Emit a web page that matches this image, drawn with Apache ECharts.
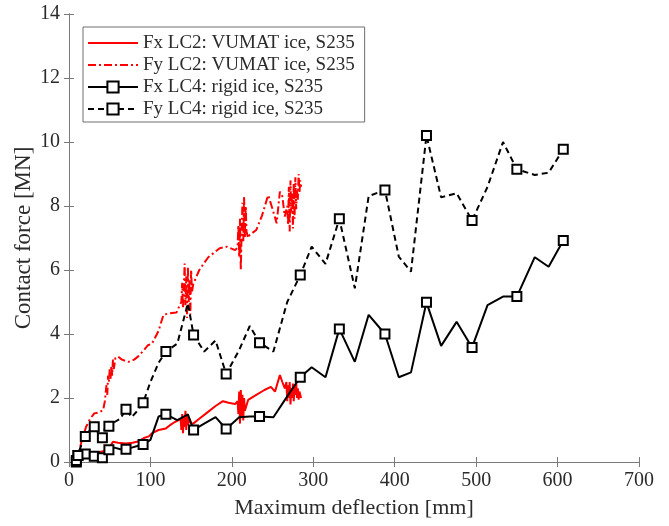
<!DOCTYPE html>
<html>
<head>
<meta charset="utf-8">
<script src="https://cdn.jsdelivr.net/npm/echarts@6/dist/echarts.min.js"></script>
<style>
  html, body { margin: 0; padding: 0; background: #fff; }
  #chart { width: 669px; height: 526px; }
</style>
</head>
<body>
<div id="chart"></div>
<script>
// LC2 (VUMAT ice) — deflection [mm] and force [MN]
const lc2FxDefl = [8,12,18,25,35,45,50,52,54,60,70,78,86,92,98,102,110,119,124,130,134,137,138,139,140,141,142,143,144,145,146,148,150,152.5,160,170,180,189,196,204,207,208,209,210,211,212,213,214,215,216,220,230,240,248,253,259,262,265,267,268,269,270,271,272,273,274,275,276,277,278,279,280,281,282,283,285];
const lc2FxForce = [0,0.1,0.2,0.25,0.3,0.35,0.4,0.55,0.63,0.6,0.58,0.6,0.65,0.75,0.8,0.9,1.0,1.05,1.15,1.25,1.3,1.35,1.0,1.5,0.9,1.4,1.1,1.6,1.0,1.45,1.15,1.35,1.2,1.2,1.35,1.55,1.75,1.9,1.85,1.81,1.9,1.5,2.2,1.2,2.25,1.4,2.1,1.3,2.0,1.6,1.94,2.1,2.25,2.35,2.2,2.72,2.5,2.3,2.5,1.9,2.4,2.0,2.5,1.8,2.3,2.0,2.45,1.9,2.35,2.1,2.5,2.0,2.3,1.95,2.2,2.0];

const lc2FyDefl = [8,12,16,21,26,31,37,42,44,46,47,48,49,50,51,52,53,54,55,57,60,65,73,80,85,92,97,102,106,110,116,124,132,136,138,139,140,141,142,143,144,145,146,147,148,149,150,151,152.5,160,171,185,194,204,207,208,209,210,211,212,213,214,215,216,217,218,220,222,230,237,244.6,250,255,259,262,265,268,269,270,271,272,273,274,275,276,277,278,279,280,281,282,283,284,285];
const lc2FyForce = [0,0.3,0.7,1.1,1.35,1.52,1.55,1.62,1.9,2.4,2.1,2.7,2.5,2.9,2.6,3.0,2.7,3.2,2.9,3.25,3.3,3.2,3.13,3.2,3.3,3.5,3.65,3.7,3.9,4.1,4.6,4.65,4.67,4.9,5.0,5.6,4.8,5.4,6.2,4.9,5.8,4.5,6.1,5.0,5.7,4.6,6.0,5.3,5.55,6.0,6.4,6.68,6.73,6.62,6.7,7.4,6.4,7.6,6.0,7.2,8.1,6.9,8.3,7.0,8.0,7.2,7.0,7.1,7.25,7.7,8.34,7.9,7.46,8.45,8.3,7.67,8.0,7.4,8.6,7.2,8.8,7.8,8.4,7.3,8.7,7.6,8.9,7.9,8.5,8.2,9.0,8.4,8.8,8.6];

// LC4 (rigid ice) — shared deflection steps, markers on every third step
const lc4Defl = [9,9.5,10, 11,14,17, 20,24,27, 31,34,37, 41,43,46, 49,56,63, 70,77,84, 91,100,110, 119,133,146, 153,166,180, 193,209,222, 234,251,268, 284,298,315, 332,351,368, 388,405,420, 439,457,476, 495,514,533, 550,572,589, 607];
const lc4FxForce = [0,0.1,0.15, 0.2,0.22,0.24, 0.25,0.22,0.2, 0.18,0.2,0.17, 0.13,0.2,0.3, 0.38,0.45,0.4, 0.4,0.45,0.5, 0.55,0.69,1.42, 1.49,1.31,1.49, 1.0,1.2,1.4, 1.03,1.4,1.42, 1.42,1.4,2.05, 2.65,2.96,2.65, 4.16,3.13,4.6, 4.0,2.65,2.8, 4.99,3.63,4.38, 3.58,4.9,5.17, 5.17,6.4,6.1, 6.92];
const lc4FyForce = [0.05,0.1,0.15, 0.2,0.45,0.65, 0.8,0.95,1.0, 1.1,1.0,0.85, 0.76,0.95,1.25, 1.12,1.25,1.35, 1.65,1.4,1.6, 1.85,2.5,3.1, 3.45,3.7,4.96, 3.97,3.45,3.8, 2.75,3.5,4.25, 3.73,3.45,5.0, 5.84,6.73,6.19, 7.6,5.43,8.31, 8.5,6.42,5.95, 10.2,8.27,8.4, 7.55,8.6,10.0, 9.15,8.97,9.04, 9.77];

const seriesNames = [
  'Fx LC2: VUMAT ice, S235',
  'Fy LC2: VUMAT ice, S235',
  'Fx LC4: rigid ice, S235',
  'Fy LC4: rigid ice, S235'
];

const xTicks = { min: 0, max: 700, interval: 100 };
const yTicks = { min: 0, max: 14, interval: 2 };

function pairs(xs, ys) {
  return xs.map((x, i) => [x, ys[i]]);
}
function markedPairs(xs, ys) {
  return xs.map((x, i) => i % 3 === 0
    ? { value: [x, ys[i]] }
    : { value: [x, ys[i]], symbol: 'none' });
}

const serif = '"Liberation Serif", "DejaVu Serif", serif';
const frameColor = '#7a7a7a';
const textColor = '#2b2b2b';

const chart = echarts.init(document.getElementById('chart'), null, { renderer: 'canvas' });

const baseAxis = {
  axisLine: { show: true, lineStyle: { color: frameColor, width: 1 } },
  axisTick: { show: true, inside: true, length: 5, lineStyle: { color: frameColor } },
  splitLine: { show: false }
};

chart.setOption({
  animation: false,
  backgroundColor: '#fff',
  grid: { left: 69, right: 30, top: 14, bottom: 64, containLabel: false },
  legend: {
    orient: 'vertical',
    left: 83,
    top: 27,
    data: seriesNames,
    itemWidth: 50,
    itemHeight: 14,
    itemGap: 0,
    padding: [5, 10, 2, 4],
    borderColor: '#6e6e6e',
    borderWidth: 1,
    backgroundColor: '#fff',
    textStyle: { fontFamily: serif, fontSize: 19, lineHeight: 22, color: textColor },
    selectedMode: false
  },
  xAxis: [
    Object.assign({}, baseAxis, {
      type: 'value', position: 'bottom',
      min: xTicks.min, max: xTicks.max, interval: xTicks.interval,
      name: 'Maximum deflection [mm]',
      nameLocation: 'middle', nameGap: 35, nameMoveOverlap: false,
      nameTextStyle: { fontFamily: serif, fontSize: 22, color: textColor },
      axisLabel: { fontFamily: serif, fontSize: 20, color: textColor, margin: 9 }
    }),
    Object.assign({}, baseAxis, {
      type: 'value', position: 'top',
      min: xTicks.min, max: xTicks.max, interval: xTicks.interval,
      axisLabel: { show: false }
    })
  ],
  yAxis: [
    Object.assign({}, baseAxis, {
      type: 'value', position: 'left',
      min: yTicks.min, max: yTicks.max, interval: yTicks.interval,
      name: 'Contact force [MN]',
      nameLocation: 'middle', nameGap: 34, nameRotate: 90, nameMoveOverlap: false,
      nameTextStyle: { fontFamily: serif, fontSize: 23, color: textColor },
      axisLabel: { fontFamily: serif, fontSize: 20, color: textColor, margin: 9 }
    }),
    Object.assign({}, baseAxis, {
      type: 'value', position: 'right',
      min: yTicks.min, max: yTicks.max, interval: yTicks.interval,
      axisLabel: { show: false }
    })
  ],
  series: [
    {
      name: seriesNames[0], type: 'line', symbol: 'circle', showSymbol: false,
      data: pairs(lc2FxDefl, lc2FxForce),
      lineStyle: { color: '#ff0000', width: 2 },
      itemStyle: { color: 'rgba(255,0,0,0)' }
    },
    {
      name: seriesNames[1], type: 'line', symbol: 'circle', showSymbol: false,
      data: pairs(lc2FyDefl, lc2FyForce),
      lineStyle: { color: '#ff0000', width: 2, type: [8, 3, 2, 3] },
      itemStyle: { color: 'rgba(255,0,0,0)' }
    },
    {
      name: seriesNames[2], type: 'line', symbol: 'emptyRect', symbolSize: 9,
      showAllSymbol: true,
      data: markedPairs(lc4Defl, lc4FxForce),
      lineStyle: { color: '#000', width: 2 },
      itemStyle: { color: '#000', borderColor: '#000', borderWidth: 2 }
    },
    {
      name: seriesNames[3], type: 'line', symbol: 'emptyRect', symbolSize: 9,
      showAllSymbol: true,
      data: markedPairs(lc4Defl, lc4FyForce),
      lineStyle: { color: '#000', width: 2, type: [6, 4] },
      itemStyle: { color: '#000', borderColor: '#000', borderWidth: 2 }
    }
  ]
});
</script>
</body>
</html>
